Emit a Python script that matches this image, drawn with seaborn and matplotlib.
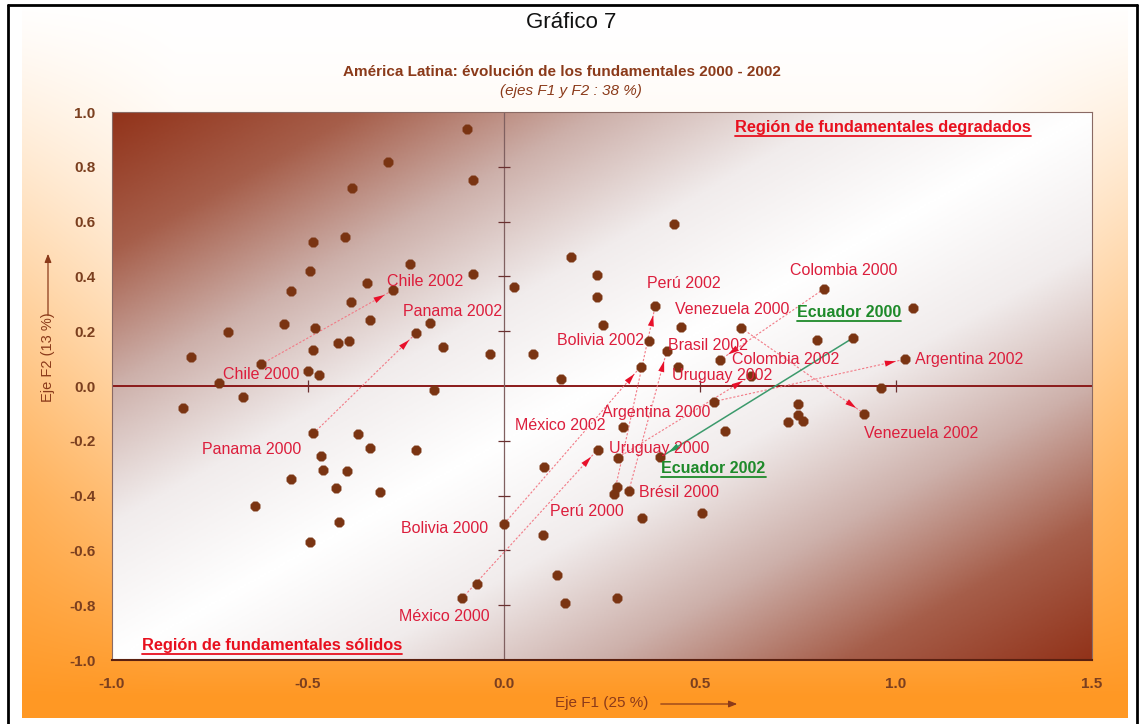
import numpy as np
import pandas as pd
import matplotlib
matplotlib.use("Agg")
import matplotlib.pyplot as plt
import seaborn as sns
from matplotlib.colors import LinearSegmentedColormap
from matplotlib.lines import Line2D

# background (unlabelled) observations
other_x = [-0.094, -0.295, -0.079, -0.388, -0.405, -0.488, -0.241, -0.495, -0.079, -0.349,
           -0.544, -0.390, -0.343, -0.190, -0.560, -0.483, -0.705, -0.423, -0.395, -0.488,
           -0.156, -0.036, -0.798, -0.500, -0.471, -0.726, -0.665, -0.178, -0.819, -0.372,
           -0.343, -0.224, -0.468, -0.461, -0.400, -0.544, -0.428, -0.317, -0.635, -0.422,
           -0.494, -0.069,
           0.025, 0.433, 0.172, 0.237, 0.237, 1.043, 0.252, 0.452, 0.798, 0.371,
           0.075, 0.443, 0.145, 0.962, 0.749, 0.751, 0.762, 0.725, 0.303, 0.564,
           0.103, 0.288, 0.352, 0.505, 0.100, 0.134, 0.156, 0.288]
other_y = [0.937, 0.816, 0.753, 0.724, 0.542, 0.525, 0.446, 0.421, 0.409, 0.376,
           0.347, 0.305, 0.242, 0.230, 0.226, 0.211, 0.198, 0.156, 0.164, 0.131,
           0.143, 0.116, 0.106, 0.055, 0.039, 0.010, -0.039, -0.013, -0.082, -0.177,
           -0.227, -0.232, -0.254, -0.306, -0.310, -0.339, -0.372, -0.388, -0.437, -0.497,
           -0.569, -0.723,
           0.360, 0.592, 0.471, 0.404, 0.326, 0.283, 0.222, 0.214, 0.168, 0.165,
           0.118, 0.070, 0.024, -0.006, -0.065, -0.106, -0.128, -0.131, -0.150, -0.165,
           -0.294, -0.368, -0.480, -0.464, -0.543, -0.690, -0.791, -0.773]

# Latin American countries, 2000 -> 2002
countries = ["Chile", "Panama", "Bolivia", "México", "Perú", "Brasil",
             "Argentina", "Uruguay", "Colombia", "Venezuela", "Ecuador"]
labels_2000 = ["Chile 2000", "Panama 2000", "Bolivia 2000", "México 2000", "Perú 2000",
               "Brésil 2000", "Argentina 2000", "Uruguay 2000", "Colombia 2000",
               "Venezuela 2000", "Ecuador 2000"]
labels_2002 = ["Chile 2002", "Panama 2002", "Bolivia 2002", "México 2002", "Perú 2002",
               "Brasil 2002", "Argentina 2002", "Uruguay 2002", "Colombia 2002",
               "Venezuela 2002", "Ecuador 2002"]
x2000 = [-0.620, -0.486, 0.001, -0.107, 0.281, 0.318, 0.535, 0.290, 0.816, 0.605, 0.891]
y2000 = [0.079, -0.173, -0.502, -0.775, -0.394, -0.385, -0.057, -0.262, 0.354, 0.212, 0.176]
x2002 = [-0.283, -0.224, 0.349, 0.239, 0.386, 0.415, 1.024, 0.630, 0.551, 0.919, 0.399]
y2002 = [0.350, 0.193, 0.071, -0.232, 0.293, 0.126, 0.098, 0.037, 0.095, -0.101, -0.260]

xticks = [-1.0, -0.5, 0.0, 0.5, 1.0, 1.5]
yticks = [-1.0, -0.8, -0.6, -0.4, -0.2, 0.0, 0.2, 0.4, 0.6, 0.8, 1.0]

# label placement (offset in pixels from the point, horizontal alignment)
off_2000 = [(0, -10, "center"), (-12, -16, "right"), (-16, -5, "right"), (-18, -18, "center"),
            (-27, -18, "center"), (10, -1, "left"), (-3, -11, "right"), (-9, 9, "left"),
            (20, 19, "center"), (-9, 18, "center"), (-4, 25, "center")]
off_2002 = [(-6, 9, "left"), (-13, 22, "left"), (3, 26, "right"), (8, 24, "right"),
            (-8, 22, "left"), (1, 6, "left"), (10, 0, "left"), (-29, 0, "center"),
            (12, 0, "left"), (0, -20, "left"), (1, -11, "left")]

sns.set_style("white")
plt.rcParams["font.family"] = ["Liberation Sans", "DejaVu Sans"]

W, H = 1142, 724
fig = plt.figure(figsize=(W / 100, H / 100), dpi=100)

# page background: white top fading to orange at the bottom and sides
bg = fig.add_axes([0, 0, 1, 1], zorder=-5)
yy, xx = np.mgrid[0:H, 0:W]
t = np.clip(((yy - 8) / 709.0), 0, 1) ** 1.7 * 1.05
edge = np.clip((np.abs(xx - 575) / 555.0 - 0.72) / 0.28, 0, 1)
t = np.clip(t + 0.45 * edge * (1 - t) * np.clip(yy / 500.0, 0, 1), 0, 1)
orange = np.array([255, 152, 36]) / 255.0
img = np.ones((H, W, 3)) * (1 - t[..., None]) + orange * t[..., None]
panel = (xx >= 22) & (xx <= 1127) & (yy >= 8) & (yy <= 717)
img[~panel] = 1.0
bg.imshow(img, extent=(0, W, H, 0), aspect="auto")
bg.set_xlim(0, W)
bg.set_ylim(H, 0)
bg.axis("off")
# outer black frame
bg.plot([8, 8], [5, H], color="black", lw=2)
bg.plot([1137, 1137], [5, H], color="black", lw=2)
bg.plot([8, 1137], [5, 5], color="black", lw=2)

ax = fig.add_axes([112 / W, 64 / H, 980 / W, 548 / H])

# diagonal brown-white-brown gradient in plot area
gy, gx = np.mgrid[1:0:300j, 0:1:500j]
grad = np.abs(gx - gy)
cmap = LinearSegmentedColormap.from_list(
    "plot_bg", [(0, "#ffffff"), (0.25, "#f1ecec"), (0.5, "#cdb0aa"), (0.75, "#a65e4a"), (1, "#92331a")])
ax.imshow(grad, cmap=cmap, extent=(-1, 1.5, -1, 1), aspect="auto", zorder=0, vmin=0, vmax=1)

# zero axes with tick marks
ax.axhline(0, color="#8b1a1a", lw=1.4, zorder=1)
ax.axvline(0, color="#806060", lw=0.9, zorder=1)
inner_x = [v for v in xticks if v not in (-1.0, 0.0, 1.5)]
inner_y = [v for v in yticks if v not in (-1.0, 0.0, 1.0)]
ax.plot(inner_x, [0] * len(inner_x), ls="none", marker="|", ms=8, mew=0.9, color="#6a3030", zorder=1)
ax.plot([0] * len(inner_y), inner_y, ls="none", marker="_", ms=8, mew=0.9, color="#6a3030", zorder=1)

# trajectories 2000 -> 2002
for i, c in enumerate(countries):
    green = c == "Ecuador"
    lcol = "#3c9a6c" if green else "#f27a86"
    hcol = "#2a9a5a" if green else "#e8102a"
    ax.plot([x2000[i], x2002[i]], [y2000[i], y2002[i]], color=lcol,
            lw=1.1 if green else 0.8, ls="-" if green else (0, (2, 1.6)), zorder=2)
    ax.annotate("", xy=(x2002[i], y2002[i]), xytext=(x2000[i], y2000[i]),
                arrowprops=dict(arrowstyle="-|>,head_length=0.8,head_width=0.22",
                                color=hcol, lw=0, shrinkA=0, shrinkB=7), zorder=3)

pts = pd.DataFrame({
    "x": other_x + x2000 + x2002,
    "y": other_y + y2000 + y2002,
})
sns.scatterplot(data=pts, x="x", y="y", ax=ax, marker="8", s=50,
                color="#7a3412", edgecolor="#7a3412", linewidth=0.6, zorder=4)

# point labels
ecuador_texts = []
for lab_list, xs, ys, offs in [(labels_2000, x2000, y2000, off_2000),
                               (labels_2002, x2002, y2002, off_2002)]:
    for lab, px, py, (dx, dy, ha) in zip(lab_list, xs, ys, offs):
        green = lab.startswith("Ecuador")
        tx = ax.annotate(lab, (px, py), xytext=(dx * 0.72, dy * 0.72), textcoords="offset points",
                         ha=ha, va="center", fontsize=11.5,
                         color="#1e8a2a" if green else "#dc1e3c",
                         fontweight="bold" if green else "normal", zorder=5)
        if green:
            ecuador_texts.append(tx)

reg1 = ax.text(0.636, 0.9726, "Región de fundamentales degradados", transform=ax.transAxes,
               ha="left", va="center", fontsize=11.8, fontweight="bold", color="#e8101e", zorder=5)
reg2 = ax.text(0.0306, 0.027, "Región de fundamentales sólidos", transform=ax.transAxes,
               ha="left", va="center", fontsize=11.8, fontweight="bold", color="#e8101e", zorder=5)

ax.set_xlim(-1.0, 1.5)
ax.set_ylim(-1.0, 1.0)
ax.set_xticks(xticks)
ax.set_yticks(yticks)
ax.set_xticklabels([f"{v:.1f}" for v in xticks])
ax.set_yticklabels([f"{v:.1f}" for v in yticks])
ax.tick_params(length=0, pad=12, labelsize=11, labelcolor="#7b3f1f")
for lbl in ax.get_xticklabels() + ax.get_yticklabels():
    lbl.set_fontweight("bold")
ax.set_xlabel("")
ax.set_ylabel("")
for side in ["top", "right", "left"]:
    ax.spines[side].set_color("#8a6a64")
    ax.spines[side].set_linewidth(0.8)
ax.spines["bottom"].set_color("#5a2010")
ax.spines["bottom"].set_linewidth(1.5)

# titles
fig.text(0.5, 1 - 22 / H, "Gráfico 7", ha="center", va="center", fontsize=16,
         color="#111111")
fig.text(0.492, 1 - 72 / H, "América Latina: évolución de los fundamentales 2000 - 2002",
         ha="center", va="center", fontsize=11, fontweight="bold", color="#8b3a1a")
fig.text(0.5, 1 - 91 / H, "(ejes F1 y F2 : 38 %)", ha="center", va="center",
         fontsize=11, style="italic", color="#8b3a1a")

# axis titles with arrows
fig.text(602 / W, 1 - 703 / H, "Eje F1 (25 %)", ha="center", va="center",
         fontsize=11, color="#8b3a1a")
fig.text(48 / W, 1 - 357 / H, "Eje F2 (13 %)", ha="center", va="center", rotation=90,
         fontsize=10.5, color="#8b3a1a")
bg.annotate("", xy=(740, 704), xytext=(658, 704),
            arrowprops=dict(arrowstyle="-|>,head_length=0.5,head_width=0.2", color="#8b3a1a", lw=0.9))
bg.annotate("", xy=(48, 251), xytext=(48, 318),
            arrowprops=dict(arrowstyle="-|>,head_length=0.5,head_width=0.2", color="#8b3a1a", lw=0.9))


def underline(txt, color, lw=1.3):
    fig.canvas.draw()
    bb = txt.get_window_extent()
    inv = fig.transFigure.inverted()
    (x0, y0), (x1, _) = inv.transform([[bb.x0, bb.y0], [bb.x1, bb.y0]])
    fig.add_artist(Line2D([x0, x1], [y0 - 1 / H, y0 - 1 / H], color=color, lw=lw,
                          transform=fig.transFigure))


underline(reg1, "#e8101e")
underline(reg2, "#e8101e")
for tx in ecuador_texts:
    underline(tx, "#1e8a2a")

fig.savefig("out.png", dpi=100)
